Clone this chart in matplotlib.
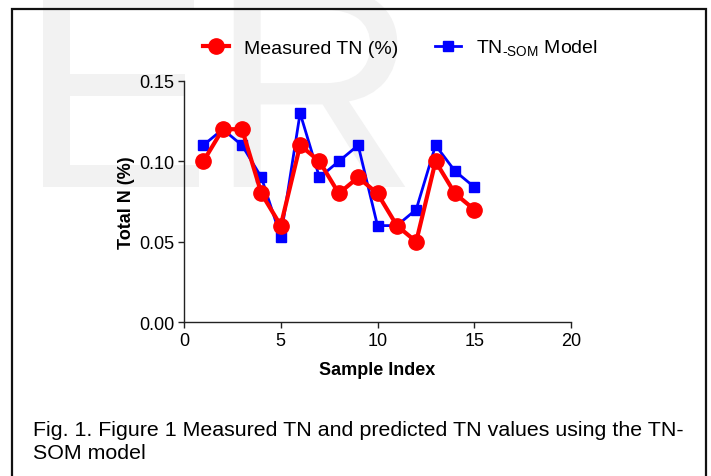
import matplotlib
matplotlib.use("Agg")
import matplotlib.pyplot as plt
from matplotlib.patches import Rectangle, PathPatch
from matplotlib.ticker import FormatStrFormatter
from matplotlib.textpath import TextPath
from matplotlib.font_manager import FontProperties
from matplotlib.transforms import Affine2D, IdentityTransform

plt.rcParams['font.family'] = ['Liberation Sans', 'DejaVu Sans']
plt.rcParams['mathtext.fontset'] = 'custom'
plt.rcParams['mathtext.rm'] = 'Liberation Sans'

# Data
sample_index = [1, 2, 3, 4, 5, 6, 7, 8, 9, 10, 11, 12, 13, 14, 15]
measured_tn = [0.10, 0.12, 0.12, 0.08, 0.06, 0.11, 0.10, 0.08, 0.09, 0.08, 0.06, 0.05, 0.10, 0.08, 0.07]
model_tn = [0.11, 0.12, 0.11, 0.09, 0.053, 0.13, 0.09, 0.10, 0.11, 0.06, 0.06, 0.07, 0.11, 0.094, 0.084]
x_ticks = [0, 5, 10, 15, 20]
y_ticks = [0.00, 0.05, 0.10, 0.15]
label_measured = "Measured TN (%)"
label_model = r"TN$_{\text{-SOM}}$ Model"
x_label = "Sample Index"
y_label = "Total N (%)"
caption_lines = ["Fig. 1. Figure 1 Measured TN and predicted TN values using the TN-",
                 "SOM model"]
watermark_letters = ["E", "R"]

W, H = 711, 477
fig = plt.figure(figsize=(W / 100, H / 100), dpi=100)

# Watermark drawn as glyph outlines in pixel space
wm_color = '#f2f2f2'
wm_size = 289.0  # em size in pixels
wm_prop = FontProperties(family='Liberation Sans')
for letter, ink_left in zip(watermark_letters, [19, 210]):
    tp = TextPath((0, 0), letter, size=wm_size, prop=wm_prop)
    xmin = tp.vertices[:, 0].min()
    tr = Affine2D().translate(ink_left - xmin, H - 188) + IdentityTransform()
    fig.patches.append(PathPatch(tp, transform=tr, facecolor=wm_color, edgecolor='none', zorder=-5))

# Border (open at bottom)
fig.patches.append(Rectangle((11.5 / W, -0.05), (706 - 11.5) / W, (1 - 9.5 / H) + 0.05,
                             transform=fig.transFigure, fill=False, edgecolor='#111111',
                             linewidth=1.6, zorder=1))

ax = fig.add_axes([184 / W, 1 - 323 / H, (571 - 184) / W, (323 - 82) / H])
ax.patch.set_alpha(0)

ax.plot(sample_index, model_tn, color='#0000ff', linewidth=2.0, marker='s', markersize=7.5,
        label=label_model, zorder=3)
ax.plot(sample_index, measured_tn, color='#ff0000', linewidth=3.0, marker='o', markersize=11,
        label=label_measured, zorder=4)

ax.set_xlim(0, 20)
ax.set_ylim(0, 0.15)
ax.set_xticks(x_ticks)
ax.set_yticks(y_ticks)
ax.yaxis.set_major_formatter(FormatStrFormatter('%.2f'))
for s in ['top', 'right']:
    ax.spines[s].set_visible(False)
for s in ['left', 'bottom']:
    ax.spines[s].set_color('#222222')
    ax.spines[s].set_linewidth(1.0)
ax.tick_params(direction='out', length=4, width=1.0, color='#222222', labelsize=13, pad=3)
ax.set_xlabel(x_label, fontsize=13, fontweight='bold', labelpad=9)
ax.set_ylabel(y_label, fontsize=13, fontweight='bold', labelpad=3)

handles, labels = ax.get_legend_handles_labels()
leg = fig.legend([handles[1], handles[0]], [labels[1], labels[0]], loc='center left',
                 bbox_to_anchor=(203 / W, 1 - 49 / H), ncol=2, frameon=False, fontsize=14,
                 borderpad=0, borderaxespad=0, handlelength=1.35, handletextpad=0.75,
                 columnspacing=1.9)

fig.text(33 / W, 1 - 436 / H, caption_lines[0], fontsize=15.4, ha='left', va='baseline')
fig.text(33 / W, 1 - 459 / H, caption_lines[1], fontsize=15.4, ha='left', va='baseline')

fig.savefig('out.png', dpi=100)
